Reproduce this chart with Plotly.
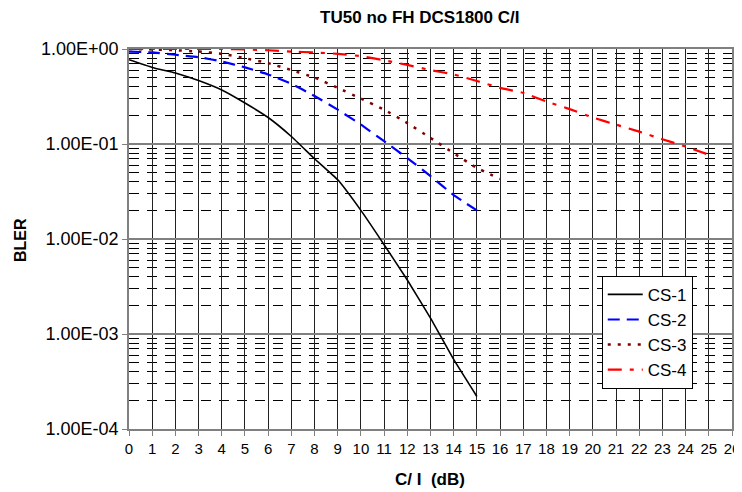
import plotly.graph_objects as go

x_cs1 = list(range(0, 16))
y_cs1 = [0.77, 0.64, 0.56, 0.465, 0.37, 0.27, 0.19, 0.12, 0.07, 0.042, 0.02, 0.0087, 0.0037, 0.00147, 0.00054, 0.00022]

x_cs2 = list(range(0, 16))
y_cs2 = [0.94, 0.92, 0.87, 0.82, 0.74, 0.64, 0.54, 0.43, 0.32, 0.23, 0.16, 0.107, 0.071, 0.046, 0.029, 0.02]

x_cs3 = list(range(0, 17))
y_cs3 = [1.0, 0.99, 0.97, 0.94, 0.89, 0.80, 0.71, 0.60, 0.50, 0.39, 0.30, 0.23, 0.166, 0.116, 0.08, 0.056, 0.043]

x_cs4 = list(range(0, 26))
y_cs4 = [1.0, 1.0, 1.0, 1.0, 1.0, 0.99, 0.97, 0.94, 0.92, 0.89, 0.84, 0.76, 0.68, 0.60, 0.54, 0.46,
         0.39, 0.345, 0.28, 0.233, 0.19, 0.16, 0.135, 0.112, 0.094, 0.077]

y_tickvals = [1e-4, 1e-3, 1e-2, 1e-1, 1]
y_ticktext = ["1.00E-04", "1.00E-03", "1.00E-02", "1.00E-01", "1.00E+00"]
x_tickvals = list(range(0, 27))

minor_vals = [m * 10 ** e for e in range(-4, 0) for m in range(2, 10)]

FONT = "Liberation Sans, Arial, sans-serif"
W, H = 734, 484
ML, MR, MT, MB = 121, 10, 41, 63
PW, PH = W - ML - MR, H - MT - MB

fig = go.Figure()
fig.add_trace(go.Scatter(x=x_cs1, y=y_cs1, mode="lines", name="CS-1",
                         line=dict(color="black", width=1.6, shape="spline", smoothing=0.4)))
fig.add_trace(go.Scatter(x=x_cs2, y=y_cs2, mode="lines", name="CS-2",
                         line=dict(color="#0000FF", width=2.2, dash="12px,7px", shape="spline", smoothing=0.4)))
fig.add_trace(go.Scatter(x=x_cs3, y=y_cs3, mode="lines", name="CS-3",
                         line=dict(color="#800000", width=2.5, dash="3px,7px", shape="spline", smoothing=0.4)))
fig.add_trace(go.Scatter(x=x_cs4, y=y_cs4, mode="lines", name="CS-4",
                         line=dict(color="#FF0000", width=2.2, dash="14px,8px,4px,8px", shape="spline", smoothing=0.4)))

fig.update_layout(
    width=W, height=H,
    margin=dict(l=ML, r=MR, t=MT, b=MB),
    paper_bgcolor="white", plot_bgcolor="white",
    font=dict(family=FONT, size=15, color="black"),
    title=dict(text="<b>TU50 no FH DCS1800 C/I</b>", x=0.561, xanchor="center", y=1 - 9.5 / H, yanchor="middle",
               font=dict(size=17, family=FONT)),
    showlegend=True,
    legend=dict(x=0.784, y=0.403, xanchor="left", yanchor="top",
                bgcolor="white", bordercolor="black", borderwidth=1,
                font=dict(size=17, family=FONT), tracegroupgap=0, itemwidth=35),
    annotations=[
        dict(text="<b>C/ I  (dB)</b>", xref="paper", yref="paper", x=(422 - ML) / PW, y=-(471 - (MT + PH)) / PH,
             xanchor="center", yanchor="middle", showarrow=False, font=dict(size=17, family=FONT)),
        dict(text="<b>BLER</b>", xref="paper", yref="paper", x=(12 - ML) / PW, y=1 - (232 - MT) / PH,
             xanchor="center", yanchor="middle", showarrow=False, textangle=-90, font=dict(size=16, family=FONT)),
    ],
)

fig.update_xaxes(
    range=[0, 26], tickvals=x_tickvals, ticktext=[str(v) for v in x_tickvals],
    showgrid=True, gridcolor="#222222", gridwidth=1,
    showline=True, linecolor="#808080", linewidth=1.5, mirror=True,
    ticks="outside", ticklen=5, tickcolor="#808080",
    tickfont=dict(size=15), zeroline=False, automargin=False, ticklabeloverflow="allow",
)
fig.update_yaxes(
    type="log", range=[-4, 0], tickvals=y_tickvals, ticktext=y_ticktext,
    showgrid=True, gridcolor="#808080", gridwidth=1.5,
    showline=True, linecolor="#808080", linewidth=1.5, mirror=True,
    ticks="outside", ticklen=5, tickcolor="#808080",
    tickfont=dict(size=18), zeroline=False, automargin=False,
    minor=dict(tickvals=minor_vals, showgrid=True, gridcolor="black", gridwidth=1,
               griddash="10px,8px", ticks=""),
)

fig.write_html("out.html")
